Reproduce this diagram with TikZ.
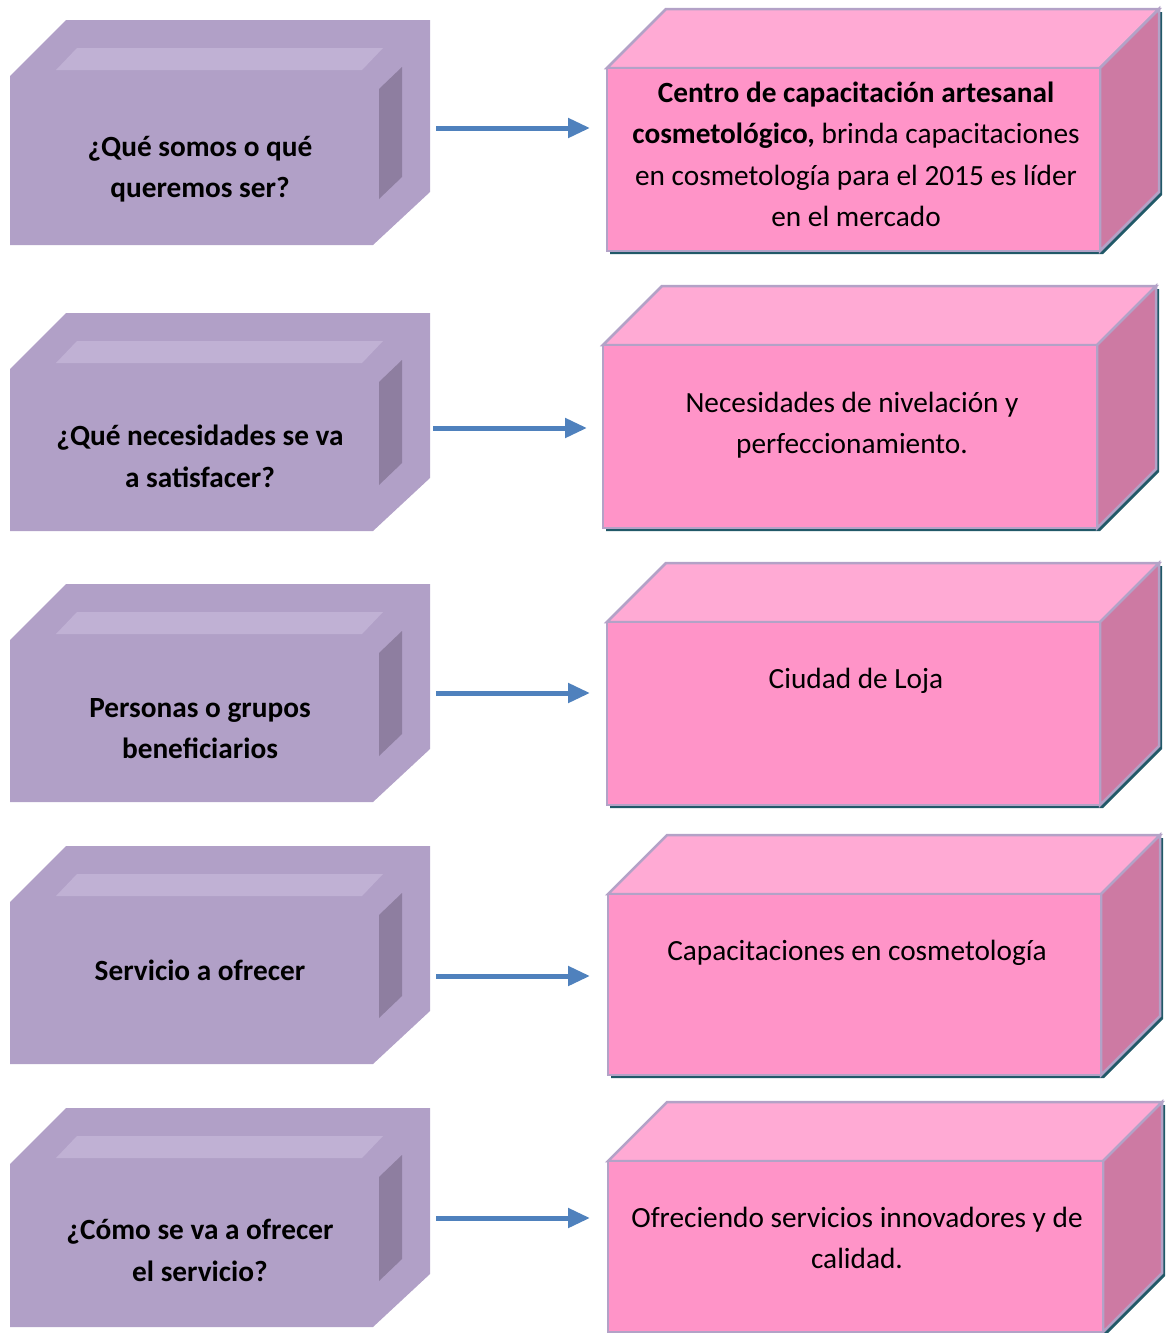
\documentclass[tikz,border=0pt]{standalone}
\usepackage{fontspec}
\setmainfont{Carlito}
\usetikzlibrary{arrows.meta}

\definecolor{lavFront}{RGB}{177,160,199}
\definecolor{lavLight}{RGB}{192,177,212}
\definecolor{lavDark}{RGB}{142,126,160}
\definecolor{pinkFront}{RGB}{255,148,200}
\definecolor{pinkTop}{RGB}{255,170,212}
\definecolor{pinkSide}{RGB}{205,122,163}
\definecolor{cubeEdge}{RGB}{179,162,199}
\definecolor{cubeShadow}{RGB}{33,89,104}
\definecolor{arrowBlue}{RGB}{79,129,189}

% bevelled purple block: #1 = top, #2 = bottom
\newcommand\purpleblock[2]{%
  \fill[lavFront] (10,#1+56) -- (66,#1) -- (430,#1) -- (430,#2-53) -- (373,#2) -- (10,#2) -- cycle;
  \fill[lavLight] (56,#1+50) -- (362,#1+50) -- (383,#1+28) -- (77,#1+28) -- cycle;
  \fill[lavDark] (379,#1+69) -- (402,#1+47) -- (402,#2-68) -- (379,#2-46) -- cycle;
}

% pink cube: #1 = front left, #2 = front right, #3 = front top, #4 = front bottom
\newcommand\pinkcube[4]{%
  \fill[cubeShadow, shift={(3,3)}] (#1,#3) -- (#1+59,#3-59) -- (#2+59,#3-59)
     -- (#2+59,#4-59) -- (#2,#4) -- (#1,#4) -- cycle;
  \filldraw[cube, fill=pinkTop] (#1,#3) -- (#1+59,#3-59) -- (#2+59,#3-59) -- (#2,#3) -- cycle;
  \filldraw[cube, fill=pinkSide] (#2,#3) -- (#2+59,#3-59) -- (#2+59,#4-59) -- (#2,#4) -- cycle;
  \filldraw[cube, fill=pinkFront] (#1,#3) rectangle (#2,#4);
}

\tikzset{
  cube/.style={draw=cubeEdge, line width=2.5pt, line join=miter},
  blocktext/.style={anchor=north, align=center, inner sep=0pt,
    font=\fontsize{29.3}{41.5}\selectfont, execute at begin node=\strut},
  question/.style={blocktext, font=\fontsize{29.3}{41.5}\selectfont\bfseries},
  flow/.style={draw=arrowBlue, line width=5pt,
    -{Triangle[length=22pt,width=19pt]}},
}

\begin{document}
\begin{tikzpicture}[x=1pt, y=-1pt]
  \clip (0,0) rectangle (1166,1333);
  \useasboundingbox (0,0) rectangle (1166,1333);

  % left column: questions
  \purpleblock{20}{245}
  \purpleblock{313}{531}
  \purpleblock{584}{802}
  \purpleblock{846}{1064}
  \purpleblock{1108}{1327}

  \node[question] (q1) at (200,135.7) {¿Qué somos o qué\\queremos ser?};
  \node[question] (q2) at (200,425.2) {¿Qué necesidades se va\\a satisfacer?};
  \node[question] (q3) at (200,698.2) {Personas o grupos\\beneficiarios};
  \node[question] (q4) at (200,951.2) {Servicio a ofrecer};
  \node[question] (q5) at (200,1219) {¿Cómo se va a ofrecer\\el servicio?};

  % right column: answers
  \pinkcube{607}{1100}{68}{251}
  \pinkcube{603}{1097}{345}{528}
  \pinkcube{607}{1100}{622}{805}
  \pinkcube{608}{1101}{894}{1075}
  \pinkcube{608}{1103}{1161}{1332}

  \node[blocktext] (a1) at (856,81.7)
    {\textbf{Centro de capacitación artesanal}\\\textbf{cosmetológico,} brinda capacitaciones\\en cosmetología para el 2015 es líder\\en el mercado};
  \node[blocktext] (a2) at (852,391.7) {Necesidades de nivelación y\\perfeccionamiento.};
  \node[blocktext] (a3) at (856,659.7) {Ciudad de Loja};
  \node[blocktext] (a4) at (857,931.7) {Capacitaciones en cosmetología};
  \node[blocktext] (a5) at (857,1206.7) {Ofreciendo servicios innovadores y de\\calidad.};

  % connectors
  \coordinate (s1) at (436,128);  \coordinate (e1) at (590,128);
  \coordinate (s2) at (433,428);  \coordinate (e2) at (587,428);
  \coordinate (s3) at (436,693);  \coordinate (e3) at (590,693);
  \coordinate (s4) at (436,976);  \coordinate (e4) at (590,976);
  \coordinate (s5) at (436,1218); \coordinate (e5) at (590,1218);
  \foreach \i in {1,...,5} \draw[flow] (s\i) -- (e\i);
\end{tikzpicture}
\end{document}
